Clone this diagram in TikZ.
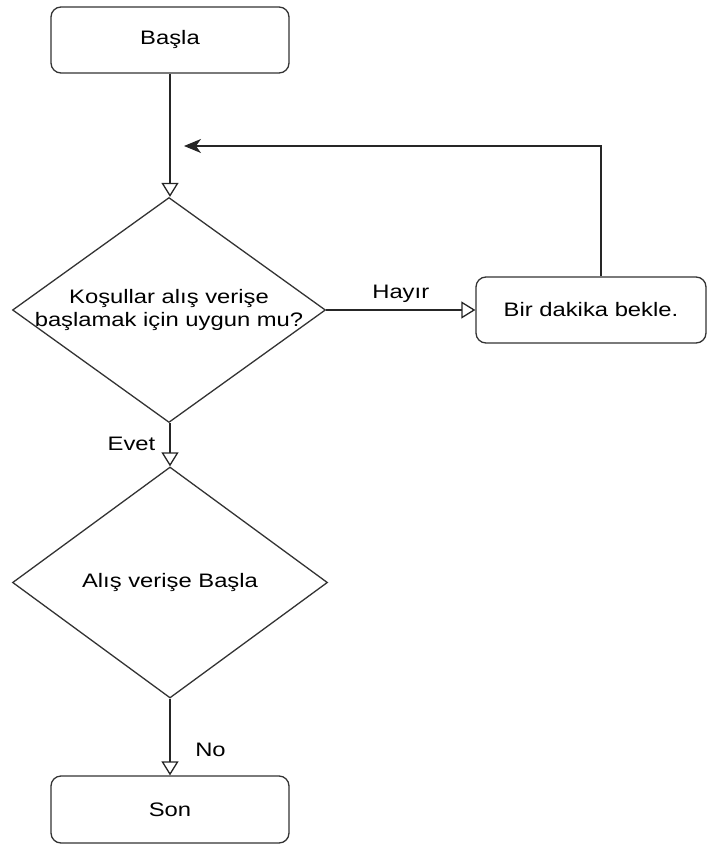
\documentclass[tikz,border=0pt]{standalone}
\usepackage{fontspec}
\setmainfont{Liberation Sans}[FakeStretch=1.22]
\usetikzlibrary{shapes.geometric,arrows.meta}
\begin{document}
\begin{tikzpicture}[x=1pt,y=-1pt,
  every node/.style={font=\fontsize{19.5}{23.5}\selectfont, text=black},
  terminal/.style={draw=black!80, line width=1.3pt, rounded corners=10pt,
    minimum width=238pt, minimum height=66pt, inner sep=0pt},
  decision/.style={draw=black!80, line width=1.3pt, diamond, inner sep=0pt},
  flow/.style={draw=black!85, line width=1.3pt,
    -{Triangle[open, width=17pt, length=14pt]}},
  loopback/.style={draw=black!85, line width=1.3pt,
    -{Stealth[length=17pt, width=14pt, inset=5pt]}},
  edgelabel/.style={inner sep=0pt},
]
\useasboundingbox (0,0) rectangle (707,845);

% boxes and decisions
\node[terminal] (start) at (170,40) {Başla};
\node[decision, minimum width=313pt, minimum height=225pt] (cond) at (169,310) {};
\node[align=center, inner sep=0pt] (condtext) at (cond.center)
  {Koşullar alış verişe\\başlamak için uygun mu?};
\node[terminal, minimum width=230pt] (wait) at (591,310) {Bir dakika bekle.};
\node[decision, minimum width=315pt, minimum height=231pt] (shop) at (170,582.5) {};
\node[inner sep=0pt] (shoptext) at (shop.center) {Alış verişe Başla};
\node[terminal, minimum height=67pt] (end) at (170,809.5) {Son};

% return point of the waiting loop
\coordinate (loopend) at (184,146);

% connectors
\draw[flow] (start) -- (start |- cond.north);
\draw[flow] (cond) -- node[edgelabel, yshift=16pt] (no1) {Hayır} (wait);
\draw[loopback] ([xshift=10pt]wait.north) |- (loopend);
\draw[flow] (start |- cond.south) -- node[edgelabel, xshift=-38.5pt, yshift=1pt] (yes1) {Evet} (shop);
\draw[flow] (shop) -- node[edgelabel, pos=0.667, xshift=40.5pt] (no2) {No} (end);
\end{tikzpicture}
\end{document}
